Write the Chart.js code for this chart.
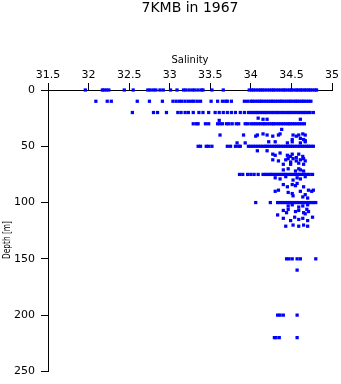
<!DOCTYPE html>
<html>
<head>
<meta charset="utf-8">
<script src="https://cdn.jsdelivr.net/npm/chart.js@4.4.0/dist/chart.umd.min.js"></script>
<style>
  body { margin: 0; background: #fff; }
  #wrap { width: 341px; height: 384px; }
</style>
</head>
<body>
<div id="wrap"><canvas id="salinityChart" width="341" height="384"></canvas></div>
<script>
// standard sampling depths (m) and the salinities read at each of them
const levelDepths = [0, 10, 20, 30, 50, 75, 100, 150, 160, 200, 220];
const levelSalinity = [
  [31.96, 32.17, 32.19, 32.22, 32.25, 32.44, 32.55, 32.73, 32.76, 32.80, 32.83, 32.88, 32.92, 33.01, 33.09,
   33.17, 33.20, 33.24, 33.28, 33.31, 33.35, 33.39, 33.41, 33.52, 33.66, 33.98, 34.01, 34.03, 34.06, 34.09,
   34.12, 34.14, 34.17, 34.20, 34.23, 34.26, 34.28, 34.31, 34.34, 34.37, 34.40, 34.42, 34.45, 34.48, 34.50,
   34.53, 34.56, 34.58, 34.61, 34.63, 34.66, 34.68, 34.71, 34.73, 34.76, 34.79, 34.81],
  [32.09, 32.23, 32.28, 32.60, 32.75, 32.91, 33.04, 33.08, 33.12, 33.15, 33.19, 33.23, 33.27, 33.30, 33.34,
   33.38, 33.51, 33.59, 33.65, 33.69, 33.71, 33.76, 33.92, 33.96, 34.00, 34.02, 34.05, 34.08, 34.11, 34.13,
   34.16, 34.19, 34.22, 34.25, 34.27, 34.30, 34.33, 34.36, 34.38, 34.41, 34.44, 34.47, 34.49, 34.52, 34.55,
   34.57, 34.60, 34.63, 34.65, 34.68, 34.71, 34.74],
  [32.54, 32.80, 32.85, 32.96, 33.10, 33.14, 33.19, 33.23, 33.29, 33.36, 33.41, 33.48, 33.56, 33.61, 33.66,
   33.71, 33.76, 33.81, 33.87, 33.92, 33.97, 34.00, 34.03, 34.06, 34.08, 34.11, 34.14, 34.17, 34.19, 34.22,
   34.25, 34.28, 34.31, 34.33, 34.36, 34.39, 34.42, 34.45, 34.47, 34.50, 34.53, 34.56, 34.59, 34.62, 34.65,
   34.67, 34.70, 34.73, 34.77],
  [33.29, 33.33, 33.35, 33.44, 33.48, 33.59, 33.62, 33.65, 33.70, 33.73, 33.77, 33.82, 33.85, 33.93, 33.96,
   34.00, 34.03, 34.06, 34.09, 34.12, 34.15, 34.17, 34.20, 34.23, 34.26, 34.28, 34.31, 34.34, 34.37, 34.40,
   34.43, 34.46, 34.48, 34.51, 34.54, 34.57, 34.60, 34.63, 34.66],
  [33.35, 33.38, 33.45, 33.48, 33.52, 33.71, 33.75, 33.81, 33.85, 33.87, 33.97, 34.00, 34.03, 34.06, 34.09,
   34.12, 34.15, 34.18, 34.20, 34.23, 34.26, 34.29, 34.32, 34.34, 34.37, 34.40, 34.43, 34.46, 34.49, 34.51,
   34.54, 34.57, 34.60, 34.63, 34.66, 34.69, 34.71, 34.74, 34.77],
  [33.86, 33.90, 33.96, 34.00, 34.04, 34.09, 34.15, 34.18, 34.21, 34.24, 34.26, 34.29, 34.32, 34.35, 34.38,
   34.41, 34.43, 34.46, 34.49, 34.52, 34.55, 34.58, 34.60, 34.63, 34.66, 34.69, 34.72, 34.76],
  [34.06, 34.24, 34.33, 34.36, 34.39, 34.42, 34.45, 34.48, 34.50, 34.53, 34.56, 34.59, 34.62, 34.65, 34.68,
   34.71, 34.74, 34.77, 34.80],
  [34.44, 34.47, 34.51, 34.57, 34.61, 34.80],
  [34.57],
  [34.33, 34.36, 34.40, 34.57],
  [34.29, 34.31, 34.35, 34.57]
];

// bottle samples that fall between the standard depths
const extraDepths = [
  25, 26, 26, 26, 27, 35,
  40, 40, 41, 40, 39, 40, 41, 40, 39, 40, 41, 40, 39, 40,
  44, 43, 44, 45, 47, 47, 46, 46, 47, 46, 47, 46,
  54, 54, 57, 58, 56, 58, 59, 57, 60, 57, 59,
  62, 63, 62, 61, 64, 61, 63, 65, 62, 61, 63, 66, 66, 66,
  71, 70, 72, 70, 71, 72,
  78, 79, 77, 80, 78, 79, 77,
  84, 86, 84, 85, 83, 86,
  90, 89, 91, 92, 90, 89, 90, 89,
  94, 95, 93, 96,
  103, 102, 104, 103, 102,
  107, 109, 106, 108, 107, 109, 106, 108, 111, 110,
  114, 116, 113, 115, 114, 116, 113,
  121, 120, 121, 120, 121
];
const extraSalinity = [
  34.09, 34.15, 34.20, 34.61, 33.61, 34.38,
  33.62, 33.91, 34.06, 34.08, 34.15, 34.20, 34.27, 34.34, 34.36, 34.52, 34.56, 34.59, 34.64, 34.67,
  34.51, 34.61, 34.65, 34.67, 33.93, 33.83, 34.22, 34.30, 34.45, 34.51, 34.61, 34.67,
  34.08, 34.20, 34.27, 34.30, 34.36, 34.45, 34.49, 34.51, 34.56, 34.59, 34.64,
  34.27, 34.34, 34.43, 34.46, 34.49, 34.52, 34.56, 34.59, 34.61, 34.65, 34.67, 34.40, 34.49, 34.65,
  34.40, 34.46, 34.55, 34.59, 34.61, 34.65,
  34.30, 34.36, 34.43, 34.52, 34.57, 34.61, 34.67,
  34.40, 34.45, 34.51, 34.55, 34.57, 34.65,
  34.30, 34.34, 34.46, 34.51, 34.61, 34.71, 34.75, 34.77,
  34.52, 34.64, 34.67, 34.70,
  34.46, 34.51, 34.59, 34.64, 34.70,
  34.40, 34.44, 34.46, 34.55, 34.59, 34.65, 34.69, 34.71, 34.33, 34.67,
  34.40, 34.49, 34.54, 34.59, 34.64, 34.70, 34.76,
  34.43, 34.52, 34.59, 34.65, 34.70
];

const salinityTicks = [31.5, 32, 32.5, 33, 33.5, 34, 34.5, 35];
const depthTicks = [0, 50, 100, 150, 200, 250];

const points = [];
levelDepths.forEach((d, i) => {
  levelSalinity[i].forEach(s => points.push({ x: s, y: d }));
});
extraDepths.forEach((d, i) => points.push({ x: extraSalinity[i], y: d }));

const FONT = '"DejaVu Sans", sans-serif';

// y axis title sits a bit below the middle of the axis, drawn by hand
const depthLabel = {
  id: 'depthLabel',
  afterDraw(chart) {
    const ctx = chart.ctx;
    ctx.save();
    ctx.translate(7, 240);
    ctx.rotate(-Math.PI / 2);
    ctx.fillStyle = '#000';
    ctx.font = '11px "Liberation Sans Narrow", "DejaVu Sans Condensed", sans-serif';
    ctx.textAlign = 'center';
    ctx.textBaseline = 'middle';
    ctx.fillText('Depth [m]', 0, 0, 38);
    ctx.restore();
  }
};

const ctx = document.getElementById('salinityChart').getContext('2d');
new Chart(ctx, {
  type: 'scatter',
  data: {
    datasets: [{
      label: 'Salinity',
      data: points,
      backgroundColor: '#0000ff',
      borderWidth: 0,
      pointStyle: 'rect',
      pointRadius: 2.3,
      clip: false
    }]
  },
  options: {
    responsive: false,
    animation: false,
    layout: { padding: { top: 0, right: 9, bottom: 9, left: 0 } },
    plugins: {
      legend: { display: false },
      tooltip: { enabled: false },
      title: {
        display: true,
        fullSize: false,
        text: '7KMB in 1967',
        color: '#000',
        font: { family: FONT, size: 14, weight: 'normal' },
        padding: { top: 0, bottom: 13.2 }
      }
    },
    scales: {
      x: {
        type: 'linear',
        position: 'top',
        min: 31.5,
        max: 35,
        afterBuildTicks: axis => { axis.ticks = salinityTicks.map(v => ({ value: v })); },
        afterFit: axis => { axis.height = 60; },
        ticks: {
          color: '#000',
          font: { family: FONT, size: 11 },
          padding: 1,
          maxRotation: 0,
          callback: v => String(v)
        },
        grid: { drawOnChartArea: false, drawTicks: true, tickLength: 7, tickColor: '#000', tickWidth: 1 },
        border: { display: true, color: '#000', width: 1 },
        title: {
          display: true,
          text: 'Salinity',
          color: '#000',
          font: { family: FONT, size: 10 },
          padding: { top: 24, bottom: 0 }
        }
      },
      y: {
        type: 'linear',
        reverse: true,
        min: 0,
        max: 250,
        afterBuildTicks: axis => { axis.ticks = depthTicks.map(v => ({ value: v })); },
        afterFit: axis => { axis.width = 48; },
        ticks: { color: '#000', font: { family: FONT, size: 11 }, padding: 6, callback: v => String(v) },
        grid: { drawOnChartArea: false, drawTicks: true, tickLength: 7, tickColor: '#000', tickWidth: 1 },
        border: { display: true, color: '#000', width: 1 }
      }
    }
  },
  plugins: [depthLabel]
});
</script>
</body>
</html>
